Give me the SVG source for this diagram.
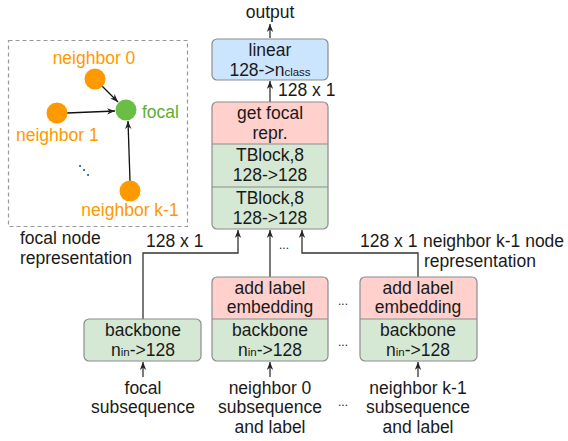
<svg xmlns="http://www.w3.org/2000/svg" width="568" height="441" viewBox="0 0 568 441">
<style>
text{font-family:"Liberation Sans",Arial,sans-serif;font-size:17.5px;fill:#1a1a1a}
.c{text-anchor:middle}
.o{fill:#FF9900}
.g{fill:#5DAE34}
.sub{font-size:11.5px}
.box{stroke:#8c8c8c;stroke-width:1.2}
.green{fill:#D5E8D4}
.pink{fill:#FFD0CC}
.blue{fill:#CCE5FF}
.conn{fill:none;stroke:#333;stroke-width:1.3}
.gedge{fill:none;stroke:#111;stroke-width:1.3}
.dots{font-size:12px}
</style>
<defs>
<marker id="ah" viewBox="0 0 10 10" refX="10" refY="5" markerWidth="8" markerHeight="8" markerUnits="userSpaceOnUse" orient="auto">
<path d="M0,1 L10,5 L0,9 L3,5 Z" fill="#222"/>
</marker>
</defs>

<g id="graph-inset">
<rect x="8.5" y="40.5" width="179" height="186" fill="none" stroke="#999" stroke-width="1.2" stroke-dasharray="4,3"/>
</g>
<g id="graph-edges">
<line class="gedge" x1="102" y1="86" x2="118" y2="102" marker-end="url(#ah)"/>
<line class="gedge" x1="67" y1="113" x2="115" y2="111" marker-end="url(#ah)"/>
<line class="gedge" x1="130" y1="181" x2="128" y2="121" marker-end="url(#ah)"/>
</g>
<g id="neighbor0-dot"><circle cx="95" cy="79" r="10.5" fill="#FF9900"/><text class="o c" x="94" y="64">neighbor 0</text></g>
<g id="neighbor1-dot"><circle cx="57" cy="113" r="10.5" fill="#FF9900"/><text class="o" x="16" y="141">neighbor 1</text></g>
<g id="focal-dot"><circle cx="126" cy="110" r="10.5" fill="#6ABE45"/><text class="g" x="142" y="118">focal</text></g>
<g id="neighbork-dot"><circle cx="130" cy="191" r="10.5" fill="#FF9900"/><text class="o c" x="130" y="216">neighbor k-1</text></g>
<text x="78" y="174" style="font-size:12px">⋱</text>

<g id="connectors">
<line class="conn" x1="270" y1="38" x2="270" y2="24" marker-end="url(#ah)"/>
<line class="conn" x1="270" y1="102" x2="270" y2="81" marker-end="url(#ah)"/>
<polyline class="conn" points="143,319 143,253 238,253 238,230" marker-end="url(#ah)"/>
<line class="conn" x1="270" y1="277" x2="270" y2="230" marker-end="url(#ah)"/>
<polyline class="conn" points="418,277 418,253 302,253 302,230" marker-end="url(#ah)"/>
<line class="conn" x1="143" y1="377" x2="143" y2="362" marker-end="url(#ah)"/>
<line class="conn" x1="270" y1="377" x2="270" y2="362" marker-end="url(#ah)"/>
<line class="conn" x1="418" y1="377" x2="418" y2="362" marker-end="url(#ah)"/>
</g>

<g id="output"><text class="c" x="270" y="18">output</text></g>

<g id="linear">
<rect class="box blue" x="212" y="39" width="116" height="41" rx="5"/>
<text class="c" x="270" y="56">linear</text>
<text class="c" x="270" y="76">128-&gt;n<tspan class="sub">class</tspan></text>
</g>
<text x="278" y="96">128 x 1</text>

<g id="transformer-stack">
<rect class="green" x="212" y="102" width="116" height="127" rx="5"/>
<path class="pink" d="M212,144 V107 Q212,102 217,102 H323 Q328,102 328,107 V144 Z"/>
<line class="box" x1="212" y1="144" x2="328" y2="144"/>
<line class="box" x1="212" y1="187" x2="328" y2="187"/>
<rect class="box" x="212" y="102" width="116" height="127" rx="5" fill="none"/>
<text class="c" x="270" y="119">get focal</text>
<text class="c" x="270" y="139">repr.</text>
<text class="c" x="270" y="161">TBlock,8</text>
<text class="c" x="270" y="181">128-&gt;128</text>
<text class="c" x="270" y="204">TBlock,8</text>
<text class="c" x="270" y="224">128-&gt;128</text>
</g>

<g id="focal-backbone">
<rect class="box green" x="84" y="319" width="117" height="42" rx="5"/>
<text class="c" x="143" y="336">backbone</text>
<text class="c" x="143" y="356">n<tspan class="sub">in</tspan>-&gt;128</text>
</g>

<g id="neighbor0-stack">
<rect class="green" x="212" y="277" width="116" height="84" rx="5"/>
<path class="pink" d="M212,319 V282 Q212,277 217,277 H323 Q328,277 328,282 V319 Z"/>
<line class="box" x1="212" y1="319" x2="328" y2="319"/>
<rect class="box" x="212" y="277" width="116" height="84" rx="5" fill="none"/>
<text class="c" x="270" y="294">add label</text>
<text class="c" x="270" y="313">embedding</text>
<text class="c" x="270" y="336">backbone</text>
<text class="c" x="270" y="356">n<tspan class="sub">in</tspan>-&gt;128</text>
</g>

<g id="neighbork-stack">
<rect class="green" x="360" y="277" width="117" height="84" rx="5"/>
<path class="pink" d="M360,319 V282 Q360,277 365,277 H472 Q477,277 477,282 V319 Z"/>
<line class="box" x1="360" y1="319" x2="477" y2="319"/>
<rect class="box" x="360" y="277" width="117" height="84" rx="5" fill="none"/>
<text class="c" x="418" y="294">add label</text>
<text class="c" x="418" y="313">embedding</text>
<text class="c" x="418" y="336">backbone</text>
<text class="c" x="418" y="356">n<tspan class="sub">in</tspan>-&gt;128</text>
</g>

<g id="labels">
<text x="20" y="244">focal node</text>
<text x="20" y="264">representation</text>
<text x="146" y="247">128 x 1</text>
<text x="360" y="247">128 x 1</text>
<text x="423" y="247">neighbor k-1 node</text>
<text x="424" y="267">representation</text>
<text class="c" x="143" y="394">focal</text>
<text class="c" x="143" y="413">subsequence</text>
<text class="c" x="270" y="394">neighbor 0</text>
<text class="c" x="270" y="413">subsequence</text>
<text class="c" x="270" y="433">and label</text>
<text class="c" x="418" y="394">neighbor k-1</text>
<text class="c" x="418" y="413">subsequence</text>
<text class="c" x="418" y="433">and label</text>
<text class="dots c" x="284" y="249">...</text>
<text class="dots c" x="343" y="305">...</text>
<text class="dots c" x="343" y="346">...</text>
<text class="dots c" x="343" y="406">...</text>
</g>
</svg>
